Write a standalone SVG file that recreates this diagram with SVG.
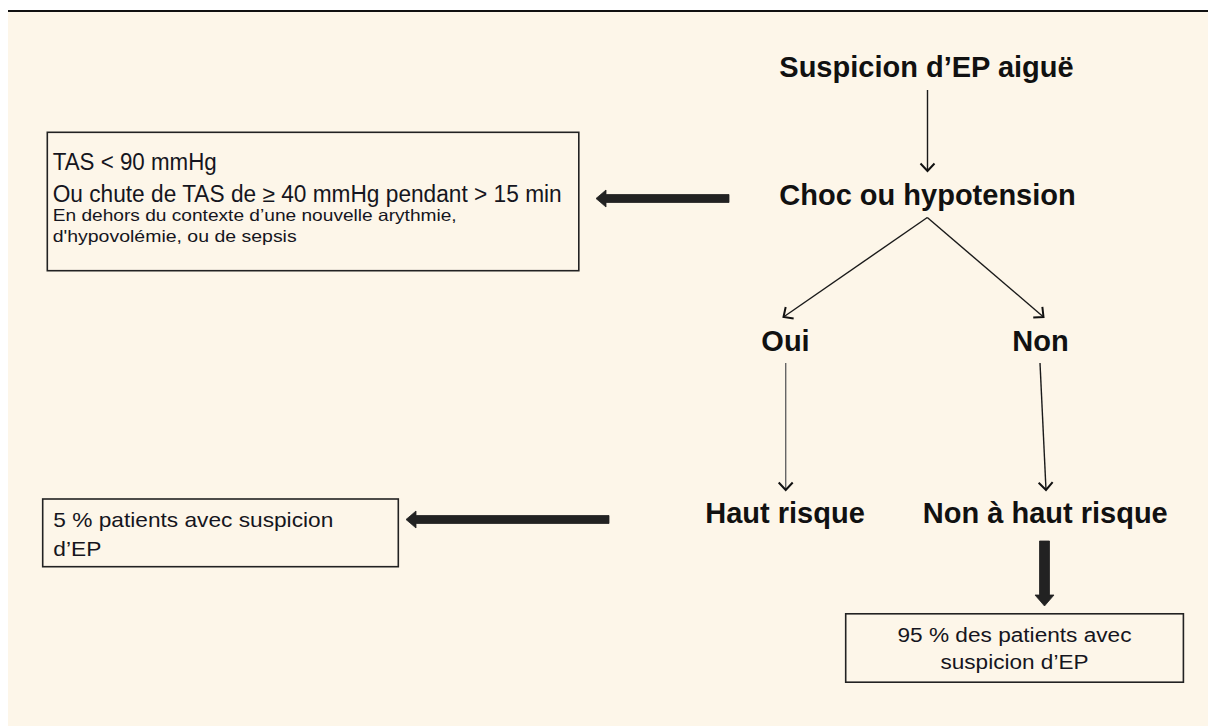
<svg xmlns="http://www.w3.org/2000/svg" width="1208" height="726" viewBox="0 0 1208 726">
  <style>
    .bold { font-family: "Liberation Sans", Arial, sans-serif; font-weight: bold; font-size: 29px; fill: #111; text-anchor: middle; }
    .reg { font-family: "Liberation Sans", Arial, sans-serif; fill: #151520; }
    .box { fill: none; stroke: #222; stroke-width: 1.6; }
    .thin { fill: none; stroke: #1a1a1a; stroke-width: 1.4; marker-end: url(#vhead); }
    .grey { stroke: #666; }
    .thick { fill: #222; stroke: #222; stroke-width: 0.8; stroke-linejoin: miter; }
  </style>
  <defs>
    <marker id="vhead" viewBox="-10 -10 20 20" refX="0" refY="0" markerWidth="20" markerHeight="20" markerUnits="userSpaceOnUse" orient="auto">
      <path d="M-7.5,-7 L0,0 L-7.5,7" fill="none" stroke="#111" stroke-width="2"/>
    </marker>
  </defs>

  <rect x="0" y="0" width="1208" height="726" fill="#ffffff"/>
  <rect x="8" y="12" width="1200" height="714" fill="#fdf6e9"/>
  <line x1="8" y1="11" x2="1208" y2="11" stroke="#111" stroke-width="2"/>

  <g id="connectors">
    <line class="thin" x1="927.5" y1="90" x2="927.5" y2="171"/>
    <line class="thin" x1="927.3" y1="217.5" x2="783.5" y2="317"/>
    <line class="thin" x1="927.3" y1="217.5" x2="1043.5" y2="317"/>
    <line class="thin grey" x1="785.7" y1="363" x2="785.7" y2="490"/>
    <line class="thin" x1="1040" y1="363" x2="1046" y2="490"/>
    <polygon class="thick" points="596,198.5 606,190 606,194.5 729,194.5 729,202.5 606,202.5 606,207"/>
    <polygon class="thick" points="406,519.5 416,511 416,515.5 609,515.5 609,523.5 416,523.5 416,528"/>
    <polygon class="thick" points="1039.5,541 1049.5,541 1049.5,595 1054,595 1044.5,606 1035,595 1039.5,595"/>
  </g>

  <g id="suspicion">
    <text class="bold" x="926.5" y="77">Suspicion d’EP aiguë</text>
  </g>
  <g id="choc">
    <text class="bold" x="927.5" y="205">Choc ou hypotension</text>
  </g>
  <g id="oui">
    <text class="bold" x="785.5" y="351">Oui</text>
  </g>
  <g id="non">
    <text class="bold" x="1040.5" y="351">Non</text>
  </g>
  <g id="haut-risque">
    <text class="bold" x="785" y="523">Haut risque</text>
  </g>
  <g id="non-haut-risque">
    <text class="bold" x="1045.3" y="523">Non à haut risque</text>
  </g>

  <g id="criteres">
    <rect class="box" x="47.3" y="132.3" width="531.5" height="138.4"/>
    <text class="reg" x="52.7" y="170" font-size="23" textLength="164" lengthAdjust="spacingAndGlyphs">TAS &lt; 90 mmHg</text>
    <text class="reg" x="52.7" y="202" font-size="23" textLength="509" lengthAdjust="spacingAndGlyphs">Ou chute de TAS de ≥ 40 mmHg pendant &gt; 15 min</text>
    <text class="reg" x="52.7" y="220.5" font-size="16.5" textLength="404" lengthAdjust="spacingAndGlyphs">En dehors du contexte d’une nouvelle arythmie,</text>
    <text class="reg" x="52.7" y="241.5" font-size="16.5" textLength="244" lengthAdjust="spacingAndGlyphs">d'hypovolémie, ou de sepsis</text>
  </g>

  <g id="cinq-pourcent">
    <rect class="box" x="42.7" y="499" width="355.6" height="67.7"/>
    <text class="reg" x="53.3" y="527" font-size="21" textLength="280" lengthAdjust="spacingAndGlyphs">5 % patients avec suspicion</text>
    <text class="reg" x="53.3" y="555.5" font-size="21" textLength="48" lengthAdjust="spacingAndGlyphs">d’EP</text>
  </g>

  <g id="quatre-vingt-quinze">
    <rect class="box" x="845.7" y="613.8" width="337.7" height="68.4"/>
    <text class="reg" x="1014.5" y="642.4" font-size="20" text-anchor="middle" textLength="234" lengthAdjust="spacingAndGlyphs">95 % des patients avec</text>
    <text class="reg" x="1014.5" y="669.4" font-size="20" text-anchor="middle" textLength="148" lengthAdjust="spacingAndGlyphs">suspicion d’EP</text>
  </g>
</svg>
